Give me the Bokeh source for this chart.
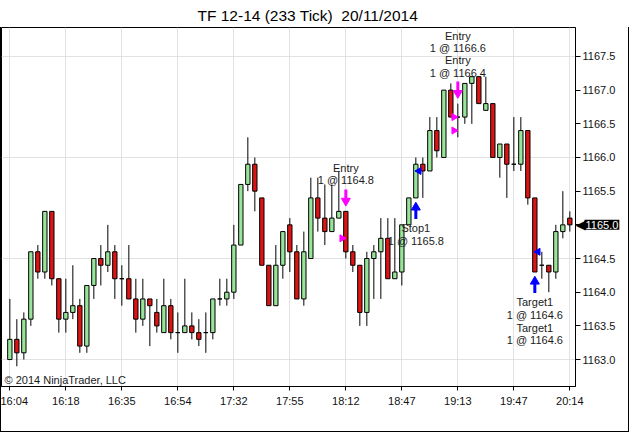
import math
from bokeh.plotting import figure
from bokeh.models import ColumnDataSource, FixedTicker, PrintfTickFormatter, Label, Range1d
from bokeh.core.properties import value
from bokeh.embed import file_html
from bokeh.resources import INLINE

# ---------------- data (233 tick bars, TF 12-14) ----------------
opens = [1163.0, 1163.3, 1163.1, 1163.6, 1164.6, 1164.3, 1165.2, 1164.2, 1163.6, 1163.7,
         1163.8, 1163.2, 1164.1, 1164.5, 1164.4, 1164.6, 1164.2, 1164.2, 1163.9, 1163.6,
         1163.9, 1163.7, 1163.4, 1163.8, 1163.4, 1163.4, 1163.5, 1163.4, 1163.4, 1163.4,
         1163.9, 1163.9, 1164.0, 1164.7, 1165.6, 1165.9, 1165.4, 1164.4, 1163.8, 1164.4,
         1165.0, 1164.6, 1163.9, 1164.5, 1165.4, 1165.1, 1164.9, 1165.1, 1165.2, 1164.6,
         1164.4, 1163.7, 1164.5, 1164.6, 1164.8, 1164.2, 1164.3, 1165.0, 1165.4, 1165.9,
         1165.8, 1166.4, 1166.0, 1167.0, 1166.6, 1166.6, 1167.1, 1167.2, 1166.7, 1166.8,
         1166.0, 1166.2, 1165.9, 1165.9, 1166.4, 1165.4, 1164.4, 1164.4, 1164.3, 1164.9,
         1165.1]
highs = [1163.9, 1163.6, 1163.7, 1164.6, 1164.7, 1165.2, 1165.2, 1164.2, 1164.2, 1164.4,
         1163.9, 1164.1, 1164.5, 1164.7, 1165.0, 1164.7, 1164.4, 1164.7, 1164.2, 1164.2,
         1163.9, 1163.9, 1164.2, 1163.9, 1163.7, 1164.2, 1163.7, 1163.6, 1163.7, 1163.9,
         1164.2, 1164.2, 1165.0, 1165.6, 1166.3, 1166.0, 1165.4, 1164.4, 1164.7, 1164.9,
         1165.1, 1164.7, 1164.9, 1165.7, 1165.7, 1165.6, 1165.6, 1165.8, 1165.2, 1164.7,
         1164.4, 1164.6, 1164.7, 1165.1, 1165.1, 1165.1, 1165.0, 1165.4, 1166.0, 1166.0,
         1166.6, 1166.6, 1167.0, 1167.1, 1166.8, 1167.1, 1167.2, 1167.2, 1167.2, 1166.8,
         1166.2, 1166.2, 1166.6, 1166.6, 1166.4, 1165.4, 1164.6, 1164.4, 1165.0, 1165.5,
         1165.2]
lows = [1163.0, 1162.9, 1163.0, 1163.5, 1164.2, 1164.2, 1164.1, 1163.4, 1163.4, 1163.6,
        1163.1, 1163.1, 1163.9, 1164.1, 1164.3, 1163.9, 1163.8, 1163.9, 1163.4, 1163.5,
        1163.2, 1163.4, 1163.4, 1163.3, 1163.1, 1163.4, 1163.3, 1163.2, 1163.1, 1163.3,
        1163.8, 1163.8, 1163.9, 1164.7, 1165.5, 1165.2, 1164.4, 1163.8, 1163.8, 1164.2,
        1164.3, 1163.9, 1163.8, 1164.5, 1164.9, 1164.7, 1164.9, 1165.1, 1164.5, 1164.3,
        1163.5, 1163.5, 1163.9, 1163.9, 1164.2, 1164.2, 1164.1, 1165.0, 1165.4, 1165.4,
        1165.8, 1166.0, 1166.0, 1166.6, 1166.3, 1166.5, 1166.5, 1166.8, 1166.7, 1166.0,
        1165.7, 1165.4, 1165.8, 1165.8, 1165.3, 1164.3, 1164.2, 1164.0, 1164.2, 1164.8,
        1164.9]
closes = [1163.3, 1163.1, 1163.6, 1164.6, 1164.3, 1165.2, 1164.2, 1163.6, 1163.7, 1163.8,
          1163.2, 1164.1, 1164.5, 1164.4, 1164.6, 1164.2, 1164.2, 1163.9, 1163.6, 1163.9,
          1163.8, 1163.5, 1163.8, 1163.4, 1163.4, 1163.5, 1163.4, 1163.3, 1163.4, 1163.9,
          1163.9, 1164.0, 1164.7, 1165.6, 1165.9, 1165.5, 1164.4, 1163.8, 1164.4, 1164.9,
          1164.6, 1163.9, 1164.6, 1165.4, 1165.1, 1164.9, 1165.1, 1165.2, 1164.6, 1164.4,
          1163.7, 1164.5, 1164.6, 1164.8, 1164.2, 1164.3, 1165.0, 1165.4, 1165.9, 1165.8,
          1166.4, 1166.1, 1167.0, 1166.6, 1166.6, 1167.1, 1167.2, 1166.8, 1166.8, 1166.0,
          1166.2, 1165.9, 1165.9, 1166.4, 1165.4, 1164.3, 1164.4, 1164.3, 1164.9, 1165.0,
          1165.0]

x_tick_labels = ["16:04", "16:18", "16:35", "16:54", "17:32", "17:55",
                 "18:12", "18:47", "19:13", "19:47", "20:14"]
y_ticks = [1163.0, 1163.5, 1164.0, 1164.5, 1165.0, 1165.5, 1166.0, 1166.5, 1167.0, 1167.5]
y_grid_ticks = [1163.0, 1164.5, 1166.0, 1167.5]

# trade signals (arrow + text), and fills (small triangles)
sig_bars = [48, 64, 58, 75]
sig_kind = ["entry", "entry", "exit", "exit"]
sig_texts = [["Entry", "1 @ 1164.8"],
             ["Entry", "1 @ 1166.6", "Entry", "1 @ 1166.4"],
             ["Stop1", "1 @ 1165.8"],
             ["Target1", "1 @ 1164.6", "Target1", "1 @ 1164.6"]]
fill_bars = [48, 64, 64, 59, 76]
fill_prices = [1164.8, 1166.6, 1166.4, 1165.8, 1164.6]
fill_kind = ["entry", "entry", "entry", "exit", "exit"]
last_price = 1165.0

title_text = "TF 12-14 (233 Tick)\u00a0 20/11/2014"
copyright_text = "\u00a9 2014 NinjaTrader, LLC"

# ---------------- layout / styles ----------------
W, H = 629, 432
MB_TOP, MB_BOTTOM, MB_LEFT, MB_RIGHT = 27, 46, 1, 54
X0, X1 = -1.19, 80.81
Y0, Y1 = 1162.60, 1167.93
FRAME_W = W - MB_LEFT - MB_RIGHT
FRAME_H = H - MB_TOP - MB_BOTTOM
PPU = FRAME_H / (Y1 - Y0)          # pixels per price unit
FONT = "Liberation Sans"
UP_COL, DN_COL = "#98e498", "#dc1414"
ENTRY_COL, EXIT_COL = "#ff00ff", "#0000ff"
TICK_STEP = 8
TITLE_LEFT = 197

def px(v):
    return v / PPU

n = len(opens)
idx = list(range(n))
src = ColumnDataSource(dict(
    x=idx, o=opens, h=highs, l=lows, c=closes,
    top=[max(o, c) for o, c in zip(opens, closes)],
    bot=[min(o, c) for o, c in zip(opens, closes)],
    col=[UP_COL if c >= o else DN_COL for o, c in zip(opens, closes)],
))

p = figure(width=W, height=H, output_backend="svg", toolbar_location=None,
           x_range=Range1d(X0, X1), y_range=Range1d(Y0, Y1),
           y_axis_location="right",
           min_border_top=MB_TOP, min_border_bottom=MB_BOTTOM,
           min_border_left=MB_LEFT, min_border_right=MB_RIGHT)
p.background_fill_color = "white"
p.border_fill_color = None
p.outline_line_color = "black"
p.outline_line_alpha = 1.0
# outer box (left, right and bottom edges) drawn as CSS background lines
box_h = H - MB_TOP
p.styles = {"background": (
    f"linear-gradient(#000,#000) left bottom / 1px {box_h}px no-repeat, "
    f"linear-gradient(#000,#000) right bottom / 1px {box_h}px no-repeat, "
    "linear-gradient(#000,#000) left bottom / 100% 1px no-repeat, #ffffff")}

p.title.text = title_text
p.title.align = "left"
p.title.offset = TITLE_LEFT - MB_LEFT
p.title.text_font = FONT
p.title.text_font_size = "15.5px"
p.title.text_font_style = "normal"
p.title.text_color = "black"
p.title.standoff = 7

# grid
p.xgrid.grid_line_color = "#e2e2e2"
p.ygrid.grid_line_color = "#e2e2e2"
p.ygrid.ticker = FixedTicker(ticks=y_grid_ticks)

# x axis
x_tick_pos = [i * TICK_STEP for i in range(len(x_tick_labels))]
p.xaxis.ticker = FixedTicker(ticks=x_tick_pos)
p.xaxis.major_label_overrides = {pos: lab for pos, lab in zip(x_tick_pos, x_tick_labels)}
# y axis
p.yaxis.ticker = FixedTicker(ticks=y_ticks)
p.yaxis.formatter = PrintfTickFormatter(format="%.1f")
for ax in (p.xaxis, p.yaxis):
    ax.axis_line_color = "black"
    ax.major_tick_line_color = "black"
    ax.major_tick_in = 0
    ax.minor_tick_line_color = None
    ax.major_label_text_font = FONT
    ax.major_label_text_font_size = "11px"
    ax.major_label_text_color = "#111111"
p.xaxis.major_tick_out = 4
p.xaxis.major_label_standoff = 4
p.yaxis.major_tick_out = 5
p.yaxis.major_label_standoff = 2

# candles
p.segment(x0="x", y0="h", x1="x", y1="l", source=src, line_color="black", line_width=1)
p.vbar(x="x", top="top", bottom="bot", width=0.62, source=src,
       fill_color="col", line_color="black", line_width=1)

# signal arrows and texts
sh_x0, sh_y0, sh_y1, sh_col = [], [], [], []
hd_x, hd_y, hd_col, hd_mark = [], [], [], []
t_x, t_y, t_txt = [], [], []
for b, kind, lines in zip(sig_bars, sig_kind, sig_texts):
    if kind == "entry":
        base = highs[b]
        tip = base + px(7)
        sh_x0.append(b); sh_y0.append(tip + px(6)); sh_y1.append(tip + px(15)); sh_col.append(ENTRY_COL)
        hd_x.append(b); hd_y.append(tip + px(3.5)); hd_col.append(ENTRY_COL); hd_mark.append("inverted_triangle")
        for k, line in enumerate(reversed(lines)):
            t_x.append(b); t_y.append(base + px(31 + 12.3 * k)); t_txt.append(line)
    else:
        base = lows[b]
        tip = base - px(6)
        sh_x0.append(b); sh_y0.append(tip - px(6)); sh_y1.append(tip - px(15)); sh_col.append(EXIT_COL)
        hd_x.append(b); hd_y.append(tip - px(3.5)); hd_col.append(EXIT_COL); hd_mark.append("triangle")
        for k, line in enumerate(lines):
            t_x.append(b); t_y.append(base - px(30 + 12.8 * k)); t_txt.append(line)

p.segment(x0=sh_x0, y0=sh_y0, x1=sh_x0, y1=sh_y1, line_color=sh_col, line_width=3)
p.scatter(x=hd_x, y=hd_y, marker=hd_mark, size=9, fill_color=hd_col, line_color=hd_col)
p.text(x=t_x, y=t_y, text=t_txt, text_font=value(FONT), text_font_size="11px",
       text_align="center", text_baseline="middle", text_color="#1a1a1a")

# fill markers
f_x = [b - 0.55 for b in fill_bars]
f_ang = [-math.pi / 2 if k == "entry" else math.pi / 2 for k in fill_kind]
f_col = [ENTRY_COL if k == "entry" else EXIT_COL for k in fill_kind]
p.scatter(x=f_x, y=fill_prices, marker="triangle", size=7, angle=f_ang,
          fill_color=f_col, line_color=f_col)

# copyright
p.add_layout(Label(x=X0, y=Y0, x_offset=3, y_offset=1, text=copyright_text,
                   text_font=FONT, text_font_size="11px", text_color="#1a1a1a",
                   text_baseline="bottom", text_align="left"))

# last price marker (in side panels so it is not clipped to the frame)
p.add_layout(Label(x=X1, y=last_price, x_offset=0, text="\u25c0", text_font="DejaVu Sans",
                   text_font_size="13px", text_color="black", text_baseline="middle",
                   text_align="left"), "right")
p.add_layout(Label(x=X1, y=last_price, x_offset=9, text="%.1f" % last_price,
                   text_font=FONT, text_font_size="11px", text_color="white",
                   text_baseline="middle", text_align="left",
                   background_fill_color="black", padding=1), "below")

open("out.html", "w").write(file_html(p, INLINE))
